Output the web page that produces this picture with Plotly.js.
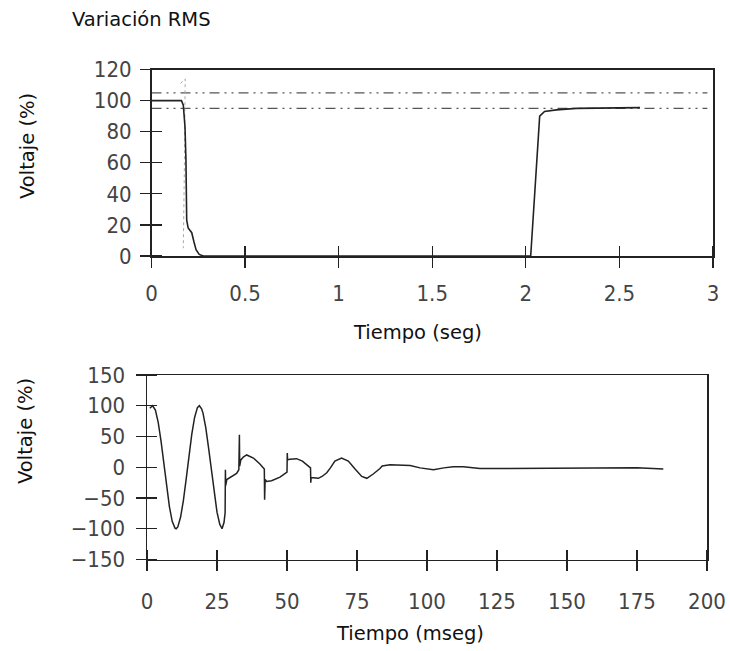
<!DOCTYPE html>
<html>
<head>
<meta charset="utf-8">
<script src="https://cdn.plot.ly/plotly-3.0.1.min.js"></script>
<style>html,body{margin:0;padding:0;background:#fff}</style>
</head>
<body>
<div id="chart" style="width:730px;height:651px"></div>
<script>
// ---- Top panel: RMS variation (time in s, voltage in %) ----
const rmsTime = [0, 0.16, 0.17, 0.179, 0.184, 0.188, 0.196, 0.215, 0.227, 0.238, 0.255, 0.277, 2.026, 2.074, 2.1, 2.163, 2.27, 2.61];
const rmsVolt = [100, 100, 97, 83, 62, 23, 18, 15, 9, 4, 1, 0, 0, 90, 93, 94, 95, 95.5];
const faintTime = [0.155, 0.18, 0.176, 0.172, 0.17];
const faintVolt = [111, 114, 60, 30, 5];
const limitTime = [0, 2.97];
const upperLimit = [105, 105];
const lowerLimit = [95, 95];
const rmsXTicks = [0, 0.5, 1, 1.5, 2, 2.5, 3];
const rmsYTicks = [0, 20, 40, 60, 80, 100, 120];

// ---- Bottom panel: instantaneous waveform (time in ms, voltage in %) ----
const waveTime = [1, 2, 3, 4, 5, 6, 7, 8, 9, 10, 10.4, 11, 12, 13, 14, 15, 16, 17, 18, 18.7, 19.5, 20, 21, 22, 23, 24, 25, 26, 26.8, 27.5, 27.9, 28.0, 28.1, 28.5, 30.2, 32.0, 32.8, 33.0, 33.1, 33.5, 34.5, 35.6, 38.0, 40.4, 41.9, 42.0, 42.2, 42.7, 44.5, 47.5, 49.6, 50.0, 50.1, 50.2, 51, 53.4, 55.5, 57.6, 58.4, 58.5, 58.6, 59.4, 61.2, 62.5, 64.2, 65.5, 67.1, 69.5, 71.9, 74.3, 76.7, 78.5, 80.8, 83.2, 84, 86.8, 90.4, 94, 97.5, 101, 102.3, 106, 109.4, 113, 118.9, 125, 139.2, 151, 159.4, 175, 184.4];
const waveVolt = [96, 100, 93, 73, 43, 6, -31, -64, -88, -99, -100, -97, -81, -54, -19, 19, 54, 81, 97, 100, 95, 88, 64, 31, -6, -43, -73, -93, -100, -90, -74, -4, -30, -20, -15, -10, -4, 53, 2, 12, 17, 20, 15, 5, -3, -53, -20, -23, -22, -16, -9, -8, 23, 12, 13, 14, 10, 2, -1, -25, -17, -17, -18, -15, -9, -1, 10, 15, 10, -3, -15, -18, -11, -2, 2, 4, 4, 3, -1, -3, -4, -1, 1, 1, -2, -2, -2, -1, -2, -1, -3];
const waveXTicks = [0, 25, 50, 75, 100, 125, 150, 175, 200];
const waveYTicks = [-150, -100, -50, 0, 50, 100, 150];

// ---- Texts ----
const chartTitle = 'Variación RMS';
const yTitle = 'Voltaje (%)';
const xTitleTop = 'Tiempo (seg)';
const xTitleBottom = 'Tiempo (mseg)';

const INK = '#222';
const tickFont = {family: '"DejaVu Sans Condensed", "Liberation Sans Narrow", "Liberation Sans", sans-serif', size: 22, color: '#444'};
const textFont = {family: '"DejaVu Sans", sans-serif', size: 19.5, color: '#111'};

// Ticks in the reference cross the axis line: major ticks go outside,
// minor ticks at the same values go inside.
function mainAxis(vals, extra) {
  return Object.assign({
    showline: true, linecolor: INK, linewidth: 1.5, mirror: true,
    ticks: 'outside', ticklen: 10, tickwidth: 1.3, tickcolor: INK,
    tickmode: 'array', tickvals: vals, tickfont: tickFont,
    minor: {tickmode: 'array', tickvals: vals, ticks: 'inside',
            ticklen: 10, tickwidth: 1.3, tickcolor: INK, showgrid: false},
    showgrid: false, zeroline: false, fixedrange: true
  }, extra);
}

const traces = [
  {x: limitTime, y: upperLimit, xaxis: 'x', yaxis: 'y', mode: 'lines',
   line: {color: '#555', width: 1.3, dash: '10px,5px,2px,5px,2px,5px'}, hoverinfo: 'skip'},
  {x: limitTime, y: lowerLimit, xaxis: 'x', yaxis: 'y', mode: 'lines',
   line: {color: '#555', width: 1.3, dash: '10px,5px,2px,5px,2px,5px'}, hoverinfo: 'skip'},
  {x: faintTime, y: faintVolt, xaxis: 'x', yaxis: 'y', mode: 'lines',
   line: {color: '#aaa', width: 1, dash: 'dot'}, hoverinfo: 'skip'},
  {x: rmsTime, y: rmsVolt, xaxis: 'x', yaxis: 'y', mode: 'lines',
   line: {color: INK, width: 1.6}},
  {x: waveTime, y: waveVolt, xaxis: 'x2', yaxis: 'y2', mode: 'lines',
   line: {color: INK, width: 1.5}}
];

const topX = [151.5 / 730, 713 / 730];
const topY = [1 - 256 / 651, 1 - 69.5 / 651];
const botX = [147 / 730, 707 / 730];
const botY = [1 - 559.5 / 651, 1 - 375 / 651];

const layout = {
  width: 730, height: 651, autosize: false,
  margin: {l: 0, r: 0, t: 0, b: 0},
  paper_bgcolor: '#fff', plot_bgcolor: 'rgba(0,0,0,0)',
  showlegend: false,
  title: {text: chartTitle, font: textFont, x: 72 / 730, xanchor: 'left', xref: 'paper',
          y: 1 - 19 / 651, yanchor: 'middle', yref: 'paper'},
  xaxis: mainAxis(rmsXTicks, {domain: topX, range: [0, 3], anchor: 'y', ticklabelstandoff: 7}),
  yaxis: mainAxis(rmsYTicks, {domain: topY, range: [0, 120], anchor: 'x', ticklabelstandoff: 4}),
  xaxis2: mainAxis(waveXTicks, {domain: botX, range: [0, 200], anchor: 'y2', ticklabelstandoff: 12}),
  yaxis2: mainAxis(waveYTicks, {domain: botY, range: [-150, 150], anchor: 'x2', ticklabelstandoff: 6}),
  annotations: [
    {text: yTitle, xref: 'paper', yref: 'paper', x: 27 / 730, y: 1 - 146 / 651, textangle: -90,
     xanchor: 'center', yanchor: 'middle', showarrow: false, font: textFont},
    {text: yTitle, xref: 'paper', yref: 'paper', x: 25 / 730, y: 1 - 431 / 651, textangle: -90,
     xanchor: 'center', yanchor: 'middle', showarrow: false, font: textFont},
    {text: xTitleTop, xref: 'paper', yref: 'paper', x: 417 / 730, y: 1 - 332 / 651,
     xanchor: 'center', yanchor: 'middle', showarrow: false, font: textFont},
    {text: xTitleBottom, xref: 'paper', yref: 'paper', x: 410 / 730, y: 1 - 633 / 651,
     xanchor: 'center', yanchor: 'middle', showarrow: false, font: textFont}
  ]
};

Plotly.newPlot('chart', traces, layout, {staticPlot: true, displayModeBar: false});
</script>
</body>
</html>
